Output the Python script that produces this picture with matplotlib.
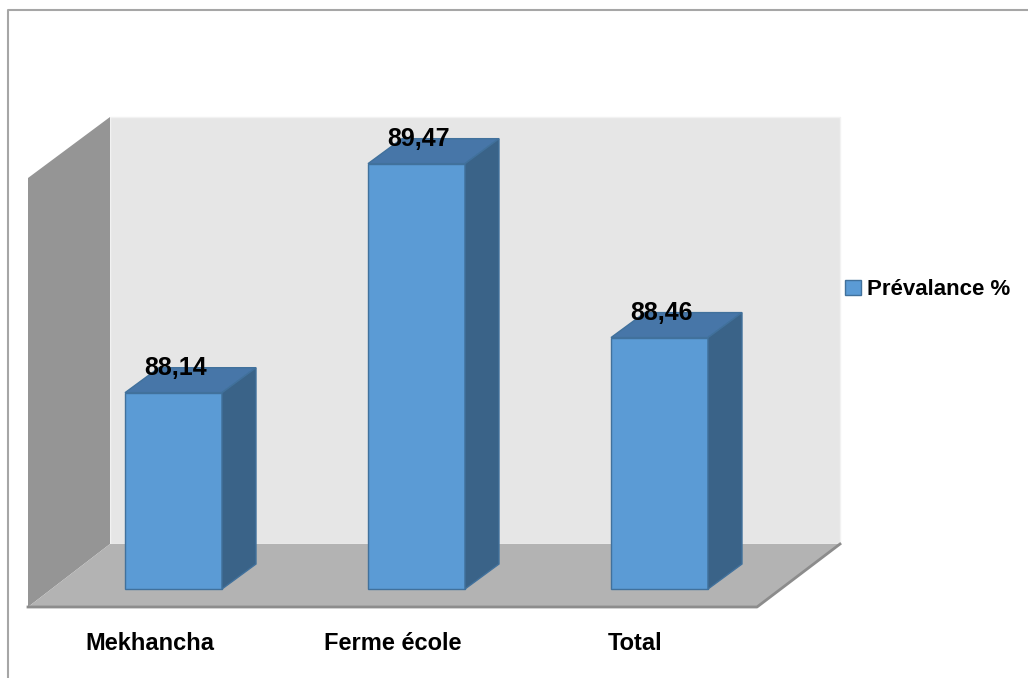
import matplotlib.pyplot as plt
from matplotlib.patches import Polygon, Patch
import numpy as np

plt.rcParams['font.family'] = ['Liberation Sans', 'DejaVu Sans']

categories = ['Mekhancha', 'Ferme école', 'Total']
prevalence = [88.14, 89.47, 88.46]
value_labels = ['88,14', '89,47', '88,46']
series_name = 'Prévalance %'

# value axis: 87 sits on the floor, 172 px per percentage point
BASE = 87.0
PX_PER_UNIT = 172.2
FLOOR_PX = 589

def v(py):
    return BASE + (FLOOR_PX - py) / PX_PER_UNIT

fig = plt.figure(figsize=(10.28, 6.78), dpi=100)
ax = fig.add_axes([0, 0, 1, 1])
ax.set_xlim(0, 1028)
ax.set_ylim(v(678), v(0))
ax.axis('off')

def poly(pts, **kw):
    ax.add_patch(Polygon([(x, v(y)) for x, y in pts], closed=True, **kw))

# chart frame
ax.plot([8, 8, 1028], [v(678), v(10), v(10)], color='#a6a6a6', lw=1.5,
        solid_capstyle='butt')

# walls and floor
poly([(110, 117), (840, 117), (840, 544), (110, 544)], facecolor='#e6e6e6',
     edgecolor='#f2f2f2', lw=1)
poly([(28, 178), (110, 117), (110, 544), (28, 607)], facecolor='#959595',
     edgecolor='none')
poly([(28, 607), (110, 544), (840, 544), (757, 607)], facecolor='#b3b3b3',
     edgecolor='none')
ax.plot([28, 757, 840], [v(607), v(607), v(544)], color='#8c8c8c', lw=2)

# 3D bars
front = '#5b9bd5'
top_c = '#4776a8'
side_c = '#3a6388'
edge = '#41719c'
dx, dy = 34, 25 / PX_PER_UNIT
width = 97
lefts = 125 + 243 * np.arange(len(categories))
ax.bar(lefts, np.array(prevalence) - BASE, width=width, bottom=BASE,
       align='edge', color=front, edgecolor=edge, lw=1, zorder=3)
for l, val, lab in zip(lefts, prevalence, value_labels):
    r = l + width
    ax.add_patch(Polygon([(l, val), (l + dx, val + dy), (r + dx, val + dy), (r, val)],
                         facecolor=top_c, edgecolor=edge, lw=1, zorder=3))
    ax.add_patch(Polygon([(r, BASE), (r + dx, BASE + dy), (r + dx, val + dy), (r, val)],
                         facecolor=side_c, edgecolor=edge, lw=1, zorder=3))
    ax.text(l + width / 2 + 2, val + dy, lab, ha='center', va='center',
            fontsize=18, fontweight='bold', zorder=4)

# category labels along the front edge of the floor
for i, cat in enumerate(categories):
    ax.text(28 + 121.5 + 243 * i, v(643), cat, ha='center', va='center',
            fontsize=17, fontweight='bold')

ax.legend(handles=[Patch(facecolor=front, edgecolor=edge, label=series_name)],
          loc='center left', bbox_to_anchor=(845 / 1028, 1 - 290 / 678),
          frameon=False, borderpad=0, borderaxespad=0, handlelength=0.7,
          handleheight=0.7, handletextpad=0.3,
          prop={'size': 16, 'weight': 'bold'})

fig.savefig('out.png', dpi=100)
